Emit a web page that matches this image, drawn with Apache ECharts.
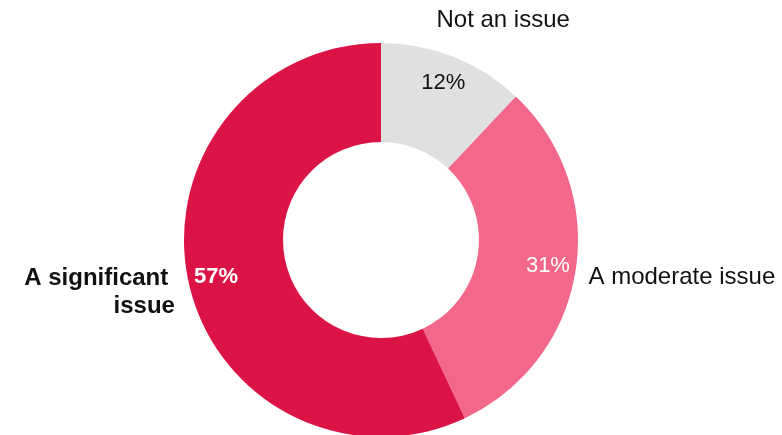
<!DOCTYPE html>
<html>
<head>
<meta charset="utf-8">
<script src="https://cdn.jsdelivr.net/npm/echarts@6/dist/echarts.min.js"></script>
<style>
  html, body { margin: 0; padding: 0; background: #fff; }
  #main { width: 782px; height: 435px; }
</style>
</head>
<body>
<div id="main"></div>
<script>
// 数据
var categories = ['Not an issue', 'A moderate issue', 'A significant \nissue'];
var values = [12, 31, 57];
var colors = ['#E0E0E0', '#F2678A', '#DC1446'];
var pctColors = ['#111', '#fff', '#fff'];
var nameWeights = ['normal', 'normal', 'bold'];
var pctWeights = ['normal', 'normal', 'bold'];

var FONT = "'Liberation Sans'";

var myChart = echarts.init(document.getElementById('main'));

var mainData = categories.map(function (c, i) {
    return {
        name: c,
        value: values[i],
        itemStyle: { color: colors[i] },
        label: { fontWeight: nameWeights[i] }
    };
});
var pctData = categories.map(function (c, i) {
    return {
        name: c,
        value: values[i],
        label: { color: pctColors[i], fontWeight: pctWeights[i] }
    };
});

// 名称标签微调
var nudge = [
    { dx: -31, dy: -29 },
    { dx: -6, dy: 5 },
    { dx: 5, dy: 8 }
];

myChart.setOption({
    animation: false,
    series: [
        {
            type: 'pie',
            center: [381, 240],
            radius: [98, 197],
            startAngle: 90,
            clockwise: true,
            silent: true,
            data: mainData,
            label: {
                show: true,
                position: 'outside',
                formatter: '{b}',
                fontFamily: FONT,
                fontSize: 24,
                lineHeight: 28,
                color: '#111',
                overflow: 'none'
            },
            labelLine: { show: false, length: 8, length2: 6 },
            labelLayout: function (params) {
                return nudge[params.dataIndex];
            }
        },
        {
            type: 'pie',
            center: [381, 240],
            radius: [136, 196],
            startAngle: 90,
            clockwise: true,
            silent: true,
            data: pctData,
            itemStyle: { color: 'rgba(0,0,0,0)' },
            label: {
                show: true,
                position: 'inside',
                formatter: '{c}%',
                fontFamily: FONT,
                fontSize: 22
            },
            labelLine: { show: false }
        }
    ]
});
</script>
</body>
</html>
